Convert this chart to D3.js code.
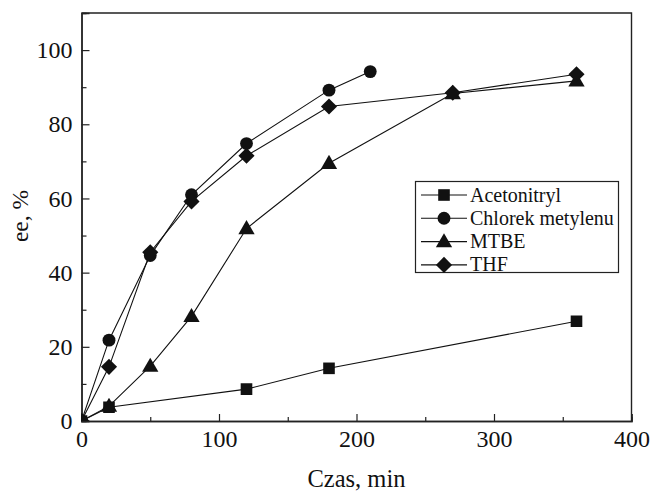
<!DOCTYPE html>
<html>
<head>
<meta charset="utf-8">
<script src="https://cdn.jsdelivr.net/npm/d3@7"></script>
<style>
  body { margin: 0; background: #fff; }
  svg text { font-family: "Liberation Serif", Tinos, "DejaVu Serif", serif; fill: #111; }
</style>
</head>
<body>
<div id="chart"></div>
<script>
// dane
const seriesNames = ["Acetonitryl", "Chlorek metylenu", "MTBE", "THF"];
const acetonitrylX = [0, 20, 120, 180, 360];
const acetonitrylY = [0, 3.7, 8.6, 14.2, 26.9];
const chlorekX = [0, 20, 50, 80, 120, 180, 210];
const chlorekY = [0, 21.8, 44.6, 61, 74.8, 89.2, 94.2];
const mtbeX = [0, 20, 50, 80, 120, 180, 270, 360];
const mtbeY = [0, 4, 14.8, 28.2, 51.9, 69.5, 88.3, 91.7];
const thfX = [0, 20, 50, 80, 120, 180, 270, 360];
const thfY = [0, 14.6, 45.5, 59.2, 71.5, 84.8, 88.5, 93.5];
const xTicks = [0, 100, 200, 300, 400];
const yTicks = [0, 20, 40, 60, 80, 100];

const width = 651;
const height = 491;
const margin = {left: 81.5, top: 13, right: 19.5, bottom: 70};
const serif = '"Liberation Serif", Tinos, "DejaVu Serif", serif';

var svg = d3.select("#chart").append("svg")
    .attr("width", width).attr("height", height);

var x = d3.scaleLinear().domain([0, 400]).range([margin.left, width - margin.right]);
var y = d3.scaleLinear().domain([0, 110]).range([height - margin.bottom, margin.top]);

svg.append("defs").append("clipPath").attr("id", "plot")
    .append("rect")
    .attr("x", x(0)).attr("y", y(110))
    .attr("width", x(400) - x(0)).attr("height", y(0) - y(110));

//ramka (góra i prawo)
svg.append("path")
    .attr("d", "M" + x(0) + "," + y(110) + " H" + x(400) + " V" + y(0))
    .attr("fill", "none").attr("stroke", "#222").attr("stroke-width", 1.4);

//osie z podziałką do środka
var xAxis = svg.append("g").attr("transform", "translate(0," + y(0) + ")")
    .call(d3.axisBottom(x).tickValues(xTicks).tickSize(-7).tickPadding(9).tickFormat(d3.format("d")));
var xMinor = svg.append("g").attr("transform", "translate(0," + y(0) + ")")
    .call(d3.axisBottom(x).tickValues([50, 150, 250, 350]).tickSize(-4).tickFormat(""));
var yAxis = svg.append("g").attr("transform", "translate(" + x(0) + ",0)")
    .call(d3.axisLeft(y).tickValues(yTicks).tickSize(-8).tickPadding(9).tickFormat(d3.format("d")));
var yMinor = svg.append("g").attr("transform", "translate(" + x(0) + ",0)")
    .call(d3.axisLeft(y).tickValues([10, 30, 50, 70, 90]).tickSize(-5).tickFormat(""));

[xAxis, xMinor, yAxis, yMinor].forEach(function (a) {
    a.attr("font-family", serif);
    a.select(".domain").attr("stroke", "#222").attr("stroke-width", 1.4);
    a.selectAll(".tick line").attr("stroke", "#222").attr("stroke-width", 1.2);
    a.selectAll(".tick text")
        .attr("font-family", serif)
        .attr("font-size", 24).attr("fill", "#111");
});
xAxis.selectAll(".tick text").attr("dy", "0.71em");

//podpisy osi
svg.append("text")
    .attr("x", (x(0) + x(400)) / 2).attr("y", 487)
    .attr("text-anchor", "middle").attr("font-size", 24.5).attr("font-family", serif)
    .text("Czas, min");
svg.append("text")
    .attr("transform", "translate(28,216) rotate(-90)")
    .attr("text-anchor", "middle").attr("font-size", 23.5).attr("font-family", serif)
    .text("ee, %");

//symbole (romb szerszy niż d3.symbolDiamond)
const diamond = {
    draw: function (ctx, size) {
        let r = Math.sqrt(size / 2);
        ctx.moveTo(0, -r);
        ctx.lineTo(r, 0);
        ctx.lineTo(0, r);
        ctx.lineTo(-r, 0);
        ctx.closePath();
    }
};
const symbols = [
    d3.symbol().type(d3.symbolSquare).size(135),
    d3.symbol().type(d3.symbolCircle).size(130),
    d3.symbol().type(d3.symbolTriangle).size(115),
    d3.symbol().type(diamond).size(130)
];

const series = [
    {xs: acetonitrylX, ys: acetonitrylY},
    {xs: chlorekX, ys: chlorekY},
    {xs: mtbeX, ys: mtbeY},
    {xs: thfX, ys: thfY}
];

var line = d3.line().x(d => x(d[0])).y(d => y(d[1]));
var g_data = svg.append("g").attr("clip-path", "url(#plot)");

series.forEach(function (s, i) {
    let pts = s.xs.map((v, j) => [v, s.ys[j]]);
    g_data.append("path")
        .datum(pts)
        .attr("d", line)
        .attr("fill", "none").attr("stroke", "#111").attr("stroke-width", 1.1);
    g_data.append("g").selectAll("path")
        .data(pts)
        .enter()
        .append("path")
        .attr("d", symbols[i])
        .attr("transform", d => "translate(" + x(d[0]) + "," + (y(d[1]) + (i === 2 ? 1 : 0)) + ")")
        .attr("fill", "#111");
});

//legenda
var legend = svg.append("g");
legend.append("rect")
    .attr("x", 415.5).attr("y", 181.5).attr("width", 203).attr("height", 91)
    .attr("fill", "#fff").attr("stroke", "#222").attr("stroke-width", 1.2);
seriesNames.forEach(function (name, i) {
    let ly = 195 + i * 23.3;
    legend.append("line")
        .attr("x1", 421).attr("x2", 467).attr("y1", ly).attr("y2", ly)
        .attr("stroke", "#111").attr("stroke-width", 1.1);
    legend.append("path")
        .attr("d", symbols[i])
        .attr("transform", "translate(444," + (ly + (i === 2 ? 1 : 0)) + ")")
        .attr("fill", "#111");
    legend.append("text")
        .attr("x", 470).attr("y", ly + 6.5)
        .attr("font-size", 20).attr("font-family", serif)
        .text(name);
});
</script>
</body>
</html>
